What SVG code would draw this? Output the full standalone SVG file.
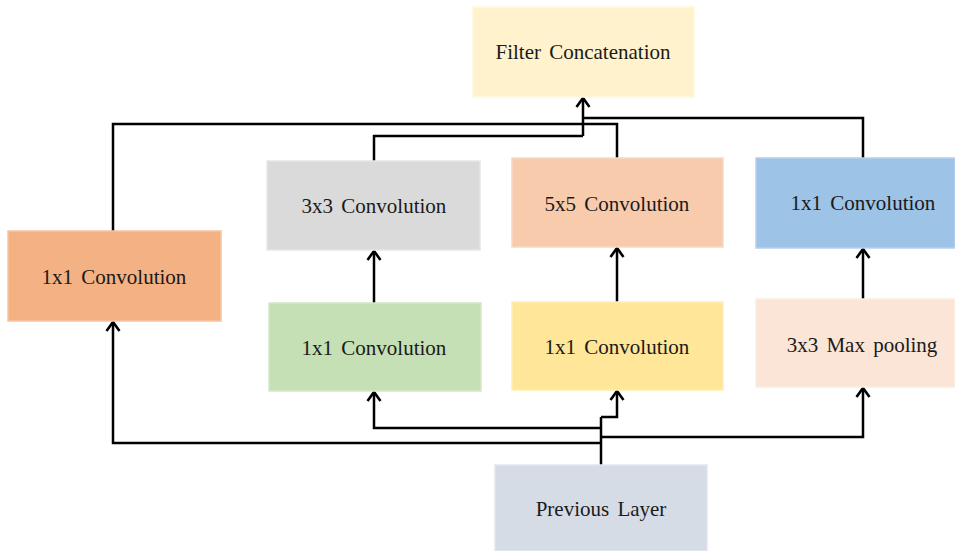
<svg xmlns="http://www.w3.org/2000/svg" width="955" height="551" viewBox="0 0 955 551">
<style>
.box{stroke-width:1.5}
.lbl{font-family:"Liberation Serif","Times New Roman",serif;font-size:21px;word-spacing:3px;fill:#1a1a1a;text-anchor:middle;dominant-baseline:central}
.c{fill:none;stroke:#000;stroke-width:2.5}
</style>
<defs>
<marker id="ah" markerWidth="16" markerHeight="16" refX="13" refY="8" orient="auto" markerUnits="userSpaceOnUse" viewBox="0 0 16 16">
<polyline points="4,1.5 13,8 4,14.5" fill="none" stroke="#000" stroke-width="2.6"/>
</marker>
</defs>
<rect width="955" height="551" fill="#fff"/>
<g id="connectors">
<path class="c" d="M583,136 V98" marker-end="url(#ah)"/>
<path class="c" d="M113,232 V124 H617 V158"/>
<path class="c" d="M374,161 V136 H583"/>
<path class="c" d="M583,118 H863 V158"/>
<path class="c" d="M374,303 V251" marker-end="url(#ah)"/>
<path class="c" d="M617,302 V248" marker-end="url(#ah)"/>
<path class="c" d="M863,299 V249" marker-end="url(#ah)"/>
<path class="c" d="M601,465 V417"/>
<path class="c" d="M601,443 H113 V322" marker-end="url(#ah)"/>
<path class="c" d="M601,428 H374 V392" marker-end="url(#ah)"/>
<path class="c" d="M601,417 H617 V391" marker-end="url(#ah)"/>
<path class="c" d="M601,437 H863 V388" marker-end="url(#ah)"/>
</g>
<g id="filter-concat"><rect class="box" x="473" y="7" width="221" height="90" fill="#FFF2CC" stroke="#FFF7E0"/><text class="lbl" x="583" y="52">Filter Concatenation</text></g>
<g id="conv1x1-left"><rect class="box" x="8" y="231" width="213" height="90" fill="#F4B183" stroke="#F7C3A0"/><text class="lbl" x="114" y="277">1x1 Convolution</text></g>
<g id="conv3x3"><rect class="box" x="267" y="161" width="213" height="89" fill="#DADADA" stroke="#E6E6E6"/><text class="lbl" x="374" y="206">3x3 Convolution</text></g>
<g id="conv1x1-green"><rect class="box" x="269" y="303" width="212" height="88" fill="#C5E0B4" stroke="#D4E8C6"/><text class="lbl" x="374" y="348">1x1 Convolution</text></g>
<g id="conv5x5"><rect class="box" x="512" y="158" width="211" height="89" fill="#F8CBAD" stroke="#FAD8C2"/><text class="lbl" x="617" y="204">5x5 Convolution</text></g>
<g id="conv1x1-yellow"><rect class="box" x="512" y="302" width="211" height="88" fill="#FFE699" stroke="#FFEEB5"/><text class="lbl" x="617" y="347">1x1 Convolution</text></g>
<g id="conv1x1-blue"><rect class="box" x="756" y="158" width="199" height="90" fill="#9DC3E6" stroke="#B4D1EC"/><text class="lbl" x="863" y="203">1x1 Convolution</text></g>
<g id="maxpool"><rect class="box" x="756" y="299" width="199" height="88" fill="#FBE5D6" stroke="#FCEDE3"/><text class="lbl" x="862" y="345">3x3 Max pooling</text></g>
<g id="previous-layer"><rect class="box" x="495" y="465" width="212" height="86" fill="#D6DCE5" stroke="#E2E6EC"/><text class="lbl" x="601" y="509">Previous Layer</text></g>
</svg>
